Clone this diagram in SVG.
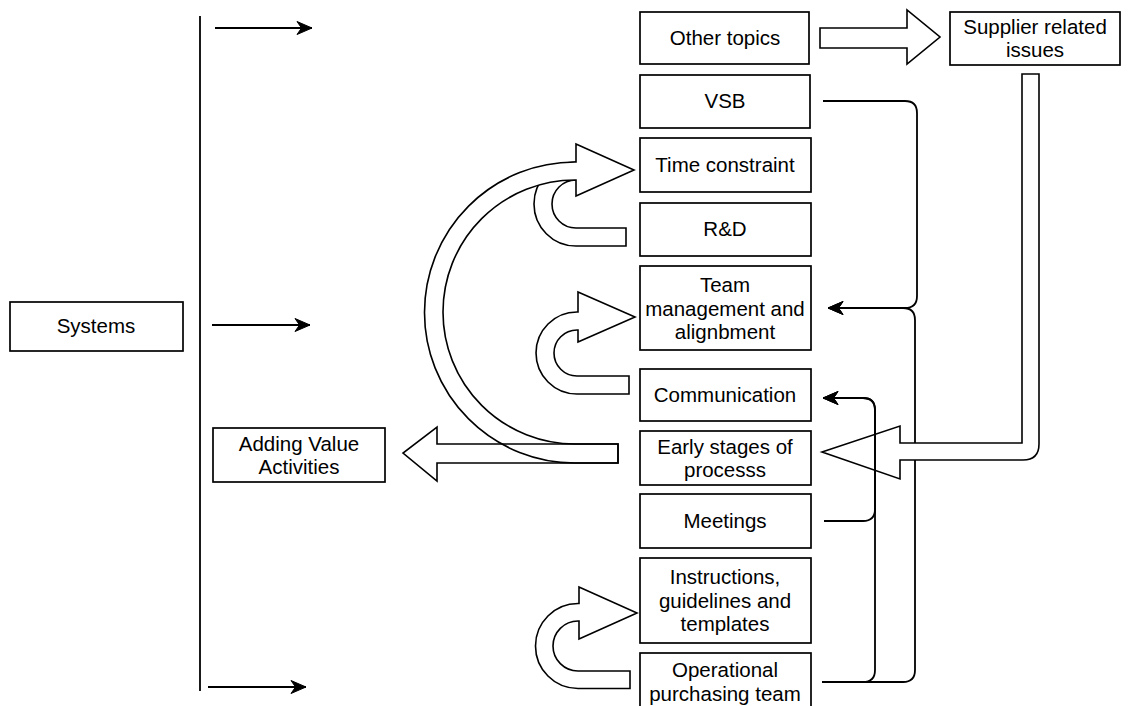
<svg xmlns="http://www.w3.org/2000/svg" width="1133" height="706" viewBox="0 0 1133 706">
  <style>
    .box { fill: #ffffff; stroke: #000000; stroke-width: 1.7; }
    .lbl { font-family: "Liberation Sans", Arial, Helvetica, sans-serif; font-size: 20.5px; fill: #000000; text-anchor: middle; }
    .edge { fill: none; stroke: #000000; stroke-width: 1.8; }
    .block { fill: #ffffff; stroke: #000000; stroke-width: 1.6; stroke-linejoin: miter; }
    .block-open { fill: none; stroke: #000000; stroke-width: 1.6; }
  </style>
  <defs>
    <marker id="ah" viewBox="0 -8 17 16" refX="16" refY="0" markerWidth="17" markerHeight="16" markerUnits="userSpaceOnUse" orient="auto">
      <path d="M 16 0 L 1 -6.5 L 5.5 0 L 1 6.5 Z" fill="#000000" stroke="#000000" stroke-width="1"/>
    </marker>
  </defs>

  <rect x="0" y="0" width="1133" height="706" fill="#ffffff"/>

  <!-- left side: systems bracket -->
  <g id="systems">
    <rect class="box" x="10" y="302" width="173" height="49"/>
    <text class="lbl" x="96" y="333">Systems</text>
  </g>
  <g id="adding-value">
    <rect class="box" x="213" y="428" width="172" height="54"/>
    <text class="lbl" x="299" y="450.5">Adding Value<tspan x="299" dy="23.5">Activities</tspan></text>
  </g>

  <!-- right column of topics -->
  <g id="other-topics">
    <rect class="box" x="640" y="12" width="169" height="52"/>
    <text class="lbl" x="725" y="45">Other topics</text>
  </g>
  <g id="vsb">
    <rect class="box" x="640" y="75" width="170" height="53"/>
    <text class="lbl" x="725" y="108">VSB</text>
  </g>
  <g id="time-constraint">
    <rect class="box" x="640" y="138" width="171" height="54"/>
    <text class="lbl" x="725" y="172">Time constraint</text>
  </g>
  <g id="rnd">
    <rect class="box" x="640" y="203" width="171" height="53"/>
    <text class="lbl" x="725" y="236">R&amp;D</text>
  </g>
  <g id="team-management">
    <rect class="box" x="640" y="266" width="171" height="84"/>
    <text class="lbl" x="725" y="292">Team<tspan x="725" dy="23.5">management and</tspan><tspan x="725" dy="23.5">alignbment</tspan></text>
  </g>
  <g id="communication">
    <rect class="box" x="640" y="369" width="171" height="52"/>
    <text class="lbl" x="725" y="402">Communication</text>
  </g>
  <g id="early-stages">
    <rect class="box" x="640" y="431" width="171" height="54"/>
    <text class="lbl" x="725" y="453.5">Early stages of<tspan x="725" dy="23.5">processs</tspan></text>
  </g>
  <g id="meetings">
    <rect class="box" x="640" y="494" width="171" height="54"/>
    <text class="lbl" x="725" y="528">Meetings</text>
  </g>
  <g id="instructions">
    <rect class="box" x="640" y="558" width="171" height="85"/>
    <text class="lbl" x="725" y="584">Instructions,<tspan x="725" dy="23.5">guidelines and</tspan><tspan x="725" dy="23.5">templates</tspan></text>
  </g>
  <g id="operational-team">
    <rect class="box" x="640" y="653" width="171" height="56"/>
    <text class="lbl" x="725" y="677">Operational<tspan x="725" dy="23.5">purchasing team</tspan></text>
  </g>
  <g id="supplier-issues">
    <rect class="box" x="950" y="12" width="170" height="53"/>
    <text class="lbl" x="1035" y="33.5">Supplier related<tspan x="1035" dy="23.5">issues</tspan></text>
  </g>

  <g id="connectors">
    <!-- bracket line and its three arrows -->
    <line class="edge" x1="200" y1="16" x2="200" y2="691"/>
    <line class="edge" x1="215" y1="28" x2="312" y2="28" marker-end="url(#ah)"/>
    <line class="edge" x1="212" y1="325" x2="310" y2="325" marker-end="url(#ah)"/>
    <line class="edge" x1="208" y1="687" x2="306" y2="687" marker-end="url(#ah)"/>

    <!-- edges into Team management (outer rail) -->
    <path class="edge" d="M 823 101 H 905 Q 917 101 917 113 V 296 Q 917 308 905 308 H 828" marker-end="url(#ah)"/>
    <path class="edge" d="M 822 682 H 903 Q 915 682 915 670 V 320 Q 915 308 903 308 H 828" marker-end="url(#ah)"/>

    <!-- Other topics to Supplier related issues -->
    <path class="block" d="M 820 28 H 907 V 10 L 940 37 L 907 64 V 48 H 820 Z"/>

    <!-- Supplier related issues down to Early stages -->
    <path class="block" d="M 1022 74 H 1039 V 444 Q 1039 460 1023 460 H 900 V 479 L 822 452 L 900 426 V 443 H 1022 Z"/>

    <!-- edges into Communication (inner rail) -->
    <path class="edge" d="M 824 521 H 863 Q 875 521 875 509 V 410 Q 875 398 863 398 H 823" marker-end="url(#ah)"/>
    <path class="edge" d="M 822 682 H 863 Q 875 682 875 670 V 410 Q 875 398 863 398 H 823" marker-end="url(#ah)"/>

    <!-- U-turn arrows on the left of the column -->
    <path class="block" d="M 626 228 V 246 H 576 A 42 42 0 0 1 576 162 H 578 V 150 L 630 171 L 578 192 V 180 H 576 A 24 24 0 0 0 576 228 Z"/>
    <path class="block" d="M 629 376 V 394 H 577 A 41 41 0 0 1 577 312 H 578 V 292 L 635 317 L 578 342 V 330 H 577 A 23 23 0 0 0 577 376 Z"/>
    <path class="block" d="M 630 671 V 688.5 H 578 A 42.5 42.5 0 0 1 578 603.5 H 579 V 587 L 637 613 L 579 639 V 621 H 578 A 25 25 0 0 0 578 671 Z"/>

    <!-- large arc from Early stages back up to Time constraint -->
    <path class="block" d="M 618 463 H 575 A 150 150 0 0 1 575 162 H 576 V 144 L 634 170 L 576 196 V 180 H 575 A 132 132 0 0 0 575 444 H 618 Z"/>

    <!-- Early stages to Adding Value Activities -->
    <path class="block-open" d="M 618 444 H 437 V 427 L 403 453 L 437 481 V 463 H 618 Z"/>
  </g>
</svg>
